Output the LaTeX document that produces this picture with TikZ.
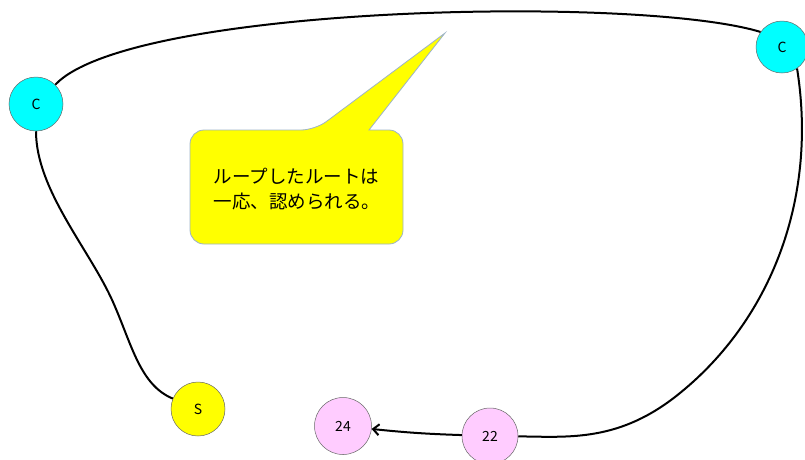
\documentclass[tikz,border=0pt]{standalone}
\usepackage{fontspec}
\setmainfont{Noto Sans CJK JP}
\usepackage{tikz}
\usetikzlibrary{arrows.meta}
\usepackage{xcolor}
\definecolor{nodecyan}{HTML}{00FFFF}
\definecolor{nodeyellow}{HTML}{FFFF00}
\definecolor{nodepink}{HTML}{FFCCFF}
\definecolor{noteedge}{HTML}{9DB3C8}

\begin{document}
\begin{tikzpicture}[x=1pt, y=-1pt, >={Straight Barb[length=6pt, width=11pt]},
    font=\fontsize{14}{16}\selectfont,
    stop/.style={circle, draw=gray!80!black, line width=0.5pt, minimum size=54pt, inner sep=0pt},
    route/.style={line width=2pt},
    note/.style={fill=nodeyellow, draw=noteedge, line width=0.8pt}]
    \useasboundingbox (0,0) rectangle (805,459);
    \node[stop, fill=nodecyan] (cl) at (36,104) {C};
    \node[stop, fill=nodecyan, minimum size=52pt] (cr) at (782,47) {C};
    \node[stop, fill=nodeyellow] (s) at (198,409) {S};
    \node[stop, fill=nodepink, minimum size=57pt] (n24) at (343,426) {24};
    \node[stop, fill=nodepink, minimum size=56pt] (n22) at (490,436) {22};
    % callout
    \draw[note] (445,33) -- (369,130) [rounded corners=14pt] -- (403,130) -- (403,244) -- (190,244) -- (190,130) -- (315,130) [sharp corners] -- cycle;
    \node[align=left, font=\fontsize{18.5}{25}\selectfont] (txt) at (297,189) {ループしたルートは\\一応、認められる。};
    % loop route
    \draw[route] (s) .. controls (140,385) and (132,345) .. (113,302)
                     .. controls (90,250) and (36,190) .. (cl);
    \draw[route] (cl.45) .. controls (130,5) and (640,-5) .. (cr.145);
    \draw[route] (cr.-55) .. controls (818,200) and (770,320) .. (680,393)
                      .. controls (620,442) and (570,437) .. (n22);
    \draw[route, ->] (n22) to[bend left=2] (n24);
\end{tikzpicture}
\end{document}
